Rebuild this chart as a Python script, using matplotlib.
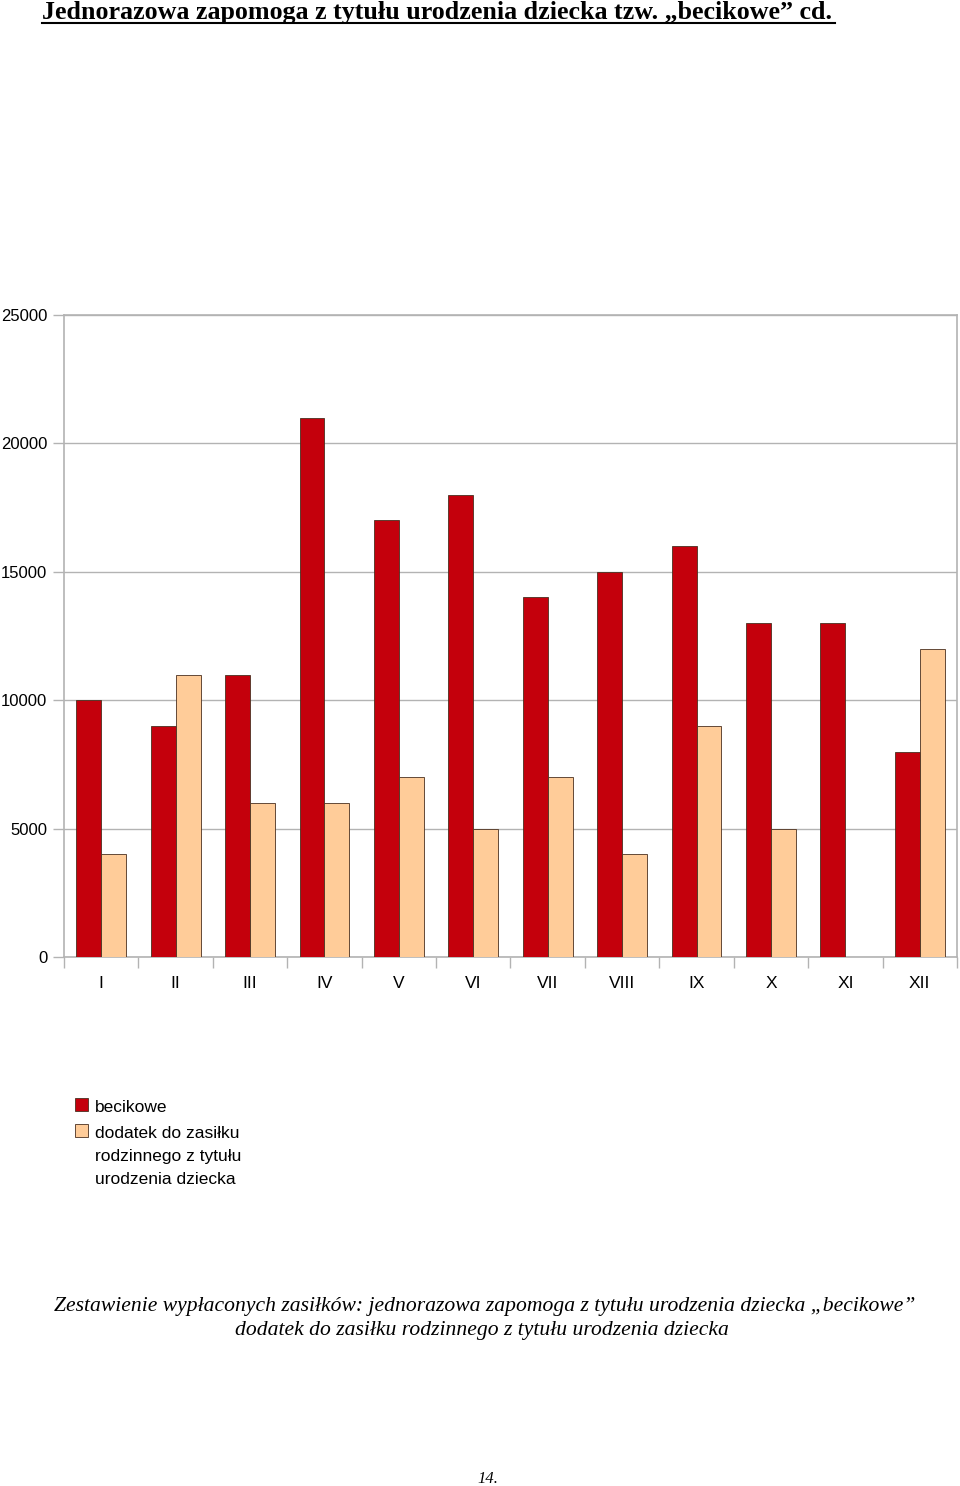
import matplotlib
matplotlib.use("Agg")
import matplotlib.pyplot as plt
import numpy as np
from matplotlib.lines import Line2D
from matplotlib.patches import Rectangle

months = ["I", "II", "III", "IV", "V", "VI", "VII", "VIII", "IX", "X", "XI", "XII"]
becikowe = [10000, 9000, 11000, 21000, 17000, 18000, 14000, 15000, 16000, 13000, 13000, 8000]
dodatek = [4000, 11000, 6000, 6000, 7000, 5000, 7000, 4000, 9000, 5000, 0, 12000]
yticks = [0, 5000, 10000, 15000, 20000, 25000]

title = "Jednorazowa zapomoga z tytułu urodzenia dziecka tzw. „becikowe” cd."
legend_labels = ["becikowe", ["dodatek do zasiłku", "rodzinnego z tytułu", "urodzenia dziecka"]]
caption1 = "Zestawienie wypłaconych zasiłków: jednorazowa zapomoga z tytułu urodzenia dziecka „becikowe”"
caption2 = "dodatek do zasiłku rodzinnego z tytułu urodzenia dziecka"
page = "14."

RED = "#c4000c"
PEACH = "#ffcc99"
EDGE = "#4a3020"
GRID = "#b3b3b3"

W, H = 960, 1486
fig = plt.figure(figsize=(W / 100, H / 100), dpi=100)
sans = ["Liberation Sans", "DejaVu Sans"]
serif = ["Liberation Serif", "DejaVu Serif"]

ax = fig.add_axes([64 / W, 1 - 957 / H, (957 - 64) / W, (957 - 315) / H])
x = np.arange(len(months))
bw = 0.335
ax.bar(x - bw / 2, becikowe, bw, color=RED, edgecolor=EDGE, linewidth=0.6, zorder=3)
ax.bar(x + bw / 2, [v if v > 0 else np.nan for v in dodatek], bw, color=PEACH,
       edgecolor=EDGE, linewidth=0.6, zorder=3)

ax.set_xlim(-0.5, len(months) - 0.5)
ax.set_ylim(0, 25000)
ax.set_yticks(yticks)
ax.set_yticklabels([str(v) for v in yticks], fontfamily=sans, fontsize=12)
ax.yaxis.grid(True, color=GRID, linewidth=1.0, zorder=0)
ax.set_axisbelow(True)
ax.tick_params(axis="y", length=8, width=1, color=GRID, pad=4)

ax.set_xticks(np.arange(len(months) + 1) - 0.5)
ax.set_xticklabels([])
ax.set_xticks(x, minor=True)
ax.set_xticklabels(months, minor=True, fontfamily=sans, fontsize=12.5)
ax.tick_params(axis="x", which="major", length=8, width=1, color=GRID)
ax.tick_params(axis="x", which="minor", length=0, pad=14)

for s in ["left", "bottom", "top", "right"]:
    ax.spines[s].set_color(GRID)
    ax.spines[s].set_linewidth(1.2)

# Title with underline
fig.text(42 / W, 1 - 12 / H, title, fontfamily=serif, fontweight="bold",
         fontsize=18.7, ha="left", va="center")
fig.add_artist(Line2D([42 / W, 835 / W], [1 - 23 / H, 1 - 23 / H], color="black", linewidth=1.5))

# Legend
sq_tops = [1098, 1124]
line_ys = [[1107], [1133, 1157, 1180]]
for col, labs, ytop, ys in zip([RED, PEACH], legend_labels, sq_tops, line_ys):
    fig.add_artist(Rectangle((75 / W, 1 - (ytop + 13) / H), 13 / W, 13 / H,
                             facecolor=col, edgecolor=EDGE, linewidth=0.6,
                             transform=fig.transFigure))
    if isinstance(labs, str):
        labs = [labs]
    for lab, yy in zip(labs, ys):
        fig.text(95 / W, 1 - yy / H, lab, fontfamily=sans, fontsize=12.5,
                 ha="left", va="center")

fig.text(485 / W, 1 - 1306 / H, caption1, fontfamily=serif, fontstyle="italic",
         fontsize=15.6, ha="center", va="center")
fig.text(482 / W, 1 - 1331 / H, caption2, fontfamily=serif, fontstyle="italic",
         fontsize=15.6, ha="center", va="center")
fig.text(488 / W, 1 - 1479 / H, page, fontfamily=serif, fontstyle="italic",
         fontsize=12, ha="center", va="center")

fig.savefig("out.png", dpi=100)
